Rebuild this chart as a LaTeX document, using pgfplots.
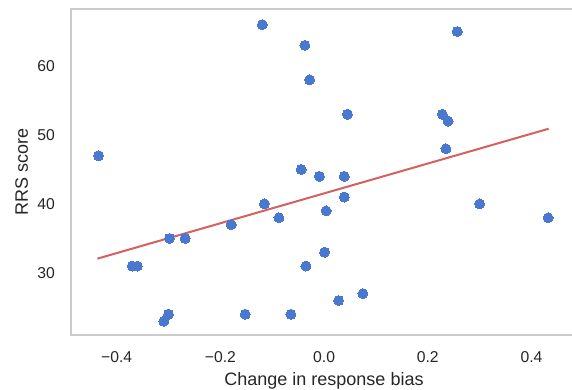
\documentclass[border=0pt]{standalone}
\usepackage{fontspec}
\setmainfont{Liberation Sans}
\usepackage{pgfplots}
\pgfplotsset{compat=1.18}
\definecolor{mblue}{HTML}{4878D0}
\definecolor{mred}{HTML}{D65F5F}
\definecolor{spine}{HTML}{CCCCCC}
\definecolor{txt}{HTML}{262626}
\begin{document}
\begin{tikzpicture}
\begin{axis}[
  at={(71bp,55bp)}, anchor=south west,
  width=502bp, height=326bp, scale only axis,
  xmin=-0.488, xmax=0.480, ymin=21.0, ymax=68.26,
  axis line style={draw=spine, line width=1.6bp},
  major tick length=0pt,
  xtick={-0.4,-0.2,0,0.2,0.4},
  xticklabels={−0.4,−0.2,0.0,0.2,0.4},
  ytick={30,40,50,60},
  yticklabels={30,40,50,60},
  xticklabel style={font=\fontsize{15.7bp}{18bp}\selectfont, text=txt, anchor=base, inner sep=0pt, yshift=-27bp},
  yticklabel style={font=\fontsize{15.7bp}{18bp}\selectfont, text=txt, anchor=east, inner sep=0pt, xshift=-16bp},
  xlabel={Change in response bias},
  ylabel={RRS score},
  xlabel style={font=\fontsize{18bp}{21bp}\selectfont, text=txt, at={(axis description cs:0.504,-0.1534)}, anchor=base, inner sep=0pt},
  ylabel style={font=\fontsize{18bp}{21bp}\selectfont, text=txt, at={(axis description cs:-0.0857,0.5)}, anchor=base, inner sep=0pt},
  clip=false,
]
\addplot[only marks, color=mblue, mark=*, mark size=5bp, mark options={fill=mblue, draw=mblue, line width=0pt}] coordinates {
(-0.119,66) (-0.037,63) (-0.028,58) (-0.435,47) (-0.044,45) (-0.009,44)
(0.257,65) (0.045,53) (0.228,53) (0.239,52) (0.235,48) (0.039,44)
(0.039,41) (0.300,40) (-0.370,31) (-0.360,31) (-0.298,35) (-0.268,35)
(-0.179,37) (-0.115,40) (-0.087,38) (-0.035,31) (-0.300,24) (-0.309,23)
(-0.152,24) (-0.064,24) (0.432,38) (0.004,39) (0.001,33) (0.028,26) (0.075,27)
};
\addplot[mred, line width=2bp] coordinates {(-0.437,32.07) (0.433,50.9)};
\end{axis}
\pgfresetboundingbox
\useasboundingbox (0,0) rectangle (572bp,390bp);
\end{tikzpicture}
\end{document}
